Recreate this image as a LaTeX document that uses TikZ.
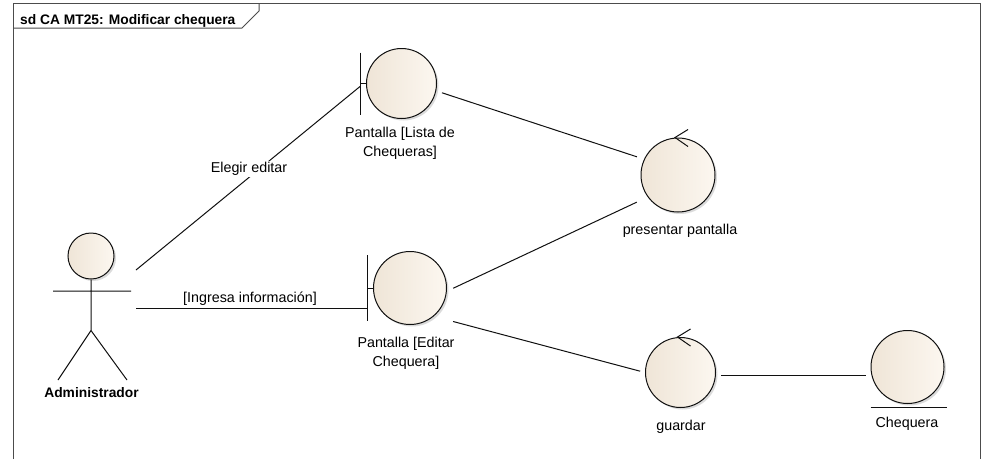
\documentclass[tikz,border=0pt]{standalone}
\usepackage{fontspec}
\setmainfont{Liberation Sans}
\usepackage{tikz}
\usetikzlibrary{shadows}
\definecolor{eaFillL}{HTML}{EFE5D7}
\definecolor{eaFillR}{HTML}{FCF7F0}
\definecolor{eaLine}{HTML}{101010}
\colorlet{eaFrame}{black!70}

\begin{document}
\begin{tikzpicture}[
  x=1pt, y=-1pt,
  every node/.style={font=\fontsize{14.3}{19}\selectfont, inner sep=0pt},
  ball/.style={circle, draw=eaLine, line width=1pt, minimum size=70pt,
               left color=eaFillL, right color=eaFillR,
               drop shadow={shadow xshift=2pt, shadow yshift=-2pt,
                            fill=black!25, opacity=0.55}},
  lbl/.style={align=center},
  bold/.style={font=\bfseries\fontsize{13.8}{16}\selectfont},
  conn/.style={draw=eaLine, line width=1pt},
  frame/.style={draw=eaFrame, line width=1pt},
]
\fill[white] (0,0) rectangle (982,459);
\useasboundingbox (0,0) rectangle (982,459);

% Frame
\draw[frame] (13,459) -- (13,3) -- (980,3) -- (980,459);
\draw[frame] (13,28) -- (242,28) -- (259,11) -- (259,3);
\node[bold, anchor=base west] (title) at (20,24) {sd CA MT25: Modificar chequera};

% Actor
\node[ball, minimum size=46pt] (admin) at (91,256) {};
\draw[conn] (admin.south) -- ++(0,51) coordinate (hip)
  (53,291) -- (131,291)
  (58,380) -- (hip) -- (127,380);
\node[bold, anchor=base] (adminlbl) at (91.5,397) {Administrador};

% Boundaries
\node[ball] (lista) at (401.5,83.5) {};
\draw[conn] (lista.west) -- ++(-6,0) ++(0,-31) -- ++(0,62);
\node[lbl] (listalbl) at (400,143.7) {Pantalla [Lista de\\Chequeras]};

\node[ball, minimum size=73pt] (editar) at (410,288) {};
\draw[conn] (editar.west) -- ++(-6,0) ++(0,-33) -- ++(0,66);
\node[lbl] (editarlbl) at (406,353.7) {Pantalla [Editar\\Chequera]};

% Controls
\node[ball, minimum size=74pt] (presentar) at (678,175) {};
\draw[conn] ([shift={(10,-8)}]presentar.north) -- ([shift={(-3,0)}]presentar.north)
  -- ([shift={(10,9)}]presentar.north);
\node[anchor=base] (presentarlbl) at (680,234) {presentar pantalla};

\node[ball] (guardar) at (680.5,372.5) {};
\draw[conn] ([shift={(10,-8)}]guardar.north) -- ([shift={(-3,0)}]guardar.north)
  -- ([shift={(10,9)}]guardar.north);
\node[anchor=base] (guardarlbl) at (681,430) {guardar};

% Entity
\node[ball, minimum size=73pt] (chequera) at (907.5,367) {};
\draw[conn] ([shift={(-37,3)}]chequera.south) -- ([shift={(39,3)}]chequera.south);
\node[anchor=base] (chequeralbl) at (907,427.7) {Chequera};

% Connectors
\draw[conn] ([shift={(45,14)}]admin.center) -- ([shift={(-6,3)}]lista.west);
\node[fill=white, inner sep=1pt, anchor=base] (elegirlbl) at (249,172.7) {Elegir editar};
\draw[conn] ([shift={(45,52)}]admin.center) -- ([shift={(-6,20)}]editar.west);
\node[anchor=base] (ingresalbl) at (250,302.7) {[Ingresa información]};
\draw[conn, shorten <=6pt, shorten >=7.5pt] (lista.-12) -- (presentar.155);
\draw[conn, shorten <=7pt, shorten >=12pt] (editar.-5) -- (presentar.216);
\draw[conn, shorten <=20pt, shorten >=5pt] (editar.-50) -- (guardar.west);
\draw[conn, shorten <=5pt, shorten >=5pt] ([yshift=-2.5pt]guardar.east)
  -- ([yshift=-2.5pt]guardar.east -| chequera.west);
\end{tikzpicture}
\end{document}
